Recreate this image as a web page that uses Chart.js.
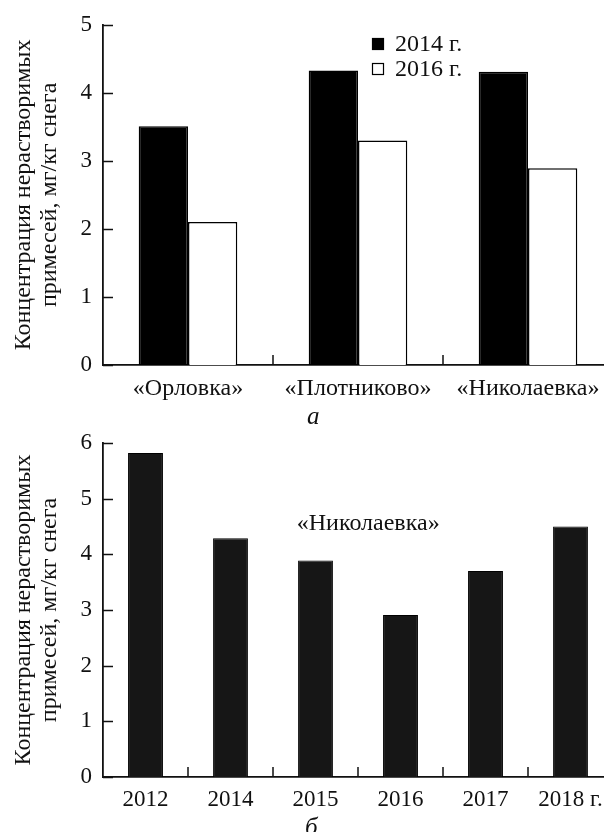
<!DOCTYPE html>
<html>
<head>
<meta charset="utf-8">
<script src="https://cdn.jsdelivr.net/npm/chart.js@4/dist/chart.umd.min.js"></script>
<style>
  html, body { margin:0; padding:0; background:#fff; width:604px; height:832px; overflow:hidden; }
  .wrap { position:absolute; left:0; width:624px; }
  #w1 { top:0; height:415px; }
  #w2 { top:415px; height:417px; }
  .cap { position:absolute; font-family:"Liberation Serif", "Times New Roman", serif; font-style:italic; font-size:25px; color:#111; line-height:1; }
</style>
</head>
<body>
<div class="wrap" id="w1"><canvas id="c1" width="624" height="415"></canvas></div>
<div class="wrap" id="w2"><canvas id="c2" width="624" height="417"></canvas></div>
<div class="cap" style="left:307px; top:403px;">а</div>
<div class="cap" style="left:305px; top:814px;">б</div>
<script>
// ---- data ----
const sites = ["«Орловка»", "«Плотниково»", "«Николаевка»"];
const seriesLabels = ["2014 г.", "2016 г."];
const values2014 = [3.51, 4.33, 4.31];
const values2016 = [2.10, 3.30, 2.89];
const years = ["2012", "2014", "2015", "2016", "2017", "2018 г."];
const nikolaevka = [5.82, 4.29, 3.89, 2.91, 3.70, 4.50];
const yTitle = ["Концентрация нерастворимых", "примесей, мг/кг снега"];
const annotation = "«Николаевка»";

const FONT = '"Liberation Serif", "Times New Roman", serif';
const INK = '#111';

const inTicks = {
  id: 'inTicks',
  afterDraw(chart) {
    const {ctx, chartArea, scales: {x, y}} = chart;
    ctx.save();
    ctx.strokeStyle = INK; ctx.lineWidth = 1.5;
    ctx.beginPath();
    y.ticks.forEach(t => {
      const py = Math.round(y.getPixelForValue(t.value)) + 0.5;
      ctx.moveTo(chartArea.left, py); ctx.lineTo(chartArea.left + 10, py);
    });
    for (let i = 1; i < x.ticks.length; i++) {
      const px = Math.round((x.getPixelForTick(i - 1) + x.getPixelForTick(i)) / 2);
      ctx.moveTo(px, chartArea.bottom); ctx.lineTo(px, chartArea.bottom - 10);
    }
    ctx.stroke();
    ctx.restore();
  }
};

const boxLegend = {
  id: 'boxLegend',
  afterDraw(chart, args, opts) {
    if (!opts.show) return;
    const {ctx, chartArea} = chart;
    ctx.save();
    ctx.font = '24px ' + FONT;
    ctx.textBaseline = 'middle';
    chart.data.datasets.forEach((ds, i) => {
      const x0 = chartArea.left + 269, yc = 44 + i * 25;
      ctx.fillStyle = ds.backgroundColor;
      ctx.fillRect(x0, yc - 6, 12, 12);
      ctx.strokeStyle = '#000'; ctx.lineWidth = 1.2;
      ctx.strokeRect(x0 + 0.5, yc - 5.5, 11, 11);
      ctx.fillStyle = INK;
      ctx.fillText(ds.label, x0 + 23, yc + 1);
    });
    ctx.restore();
  }
};

const note = {
  id: 'note',
  afterDraw(chart, args, opts) {
    if (!opts.text) return;
    const {ctx, scales: {x, y}} = chart;
    ctx.save();
    ctx.font = '24px ' + FONT;
    ctx.fillStyle = INK;
    ctx.textAlign = 'center'; ctx.textBaseline = 'middle';
    ctx.fillText(opts.text, x.getPixelForValue(2.62), y.getPixelForValue(4.55));
    ctx.restore();
  }
};

function scales(yMax, xHeight, xFont, xPad) {
  return {
    x: {
      grid: { display: false, drawTicks: false },
      border: { display: true, color: INK, width: 1.8 },
      ticks: { color: INK, font: { family: FONT, size: xFont }, padding: xPad, maxRotation: 0, autoSkip: false },
      afterFit(s) { s.height = xHeight; }
    },
    y: {
      min: 0, max: yMax,
      grid: { display: false, drawTicks: false },
      border: { display: true, color: INK, width: 1.8 },
      ticks: { stepSize: 1, color: INK, font: { family: FONT, size: 23 }, padding: 11 },
      title: { display: true, text: yTitle, color: INK, font: { family: FONT, size: 24, lineHeight: 1.08 }, padding: { top: 11, bottom: 0 } },
      afterFit(s) { s.width = 103; }
    }
  };
}

new Chart(document.getElementById('c1'), {
  type: 'bar',
  data: {
    labels: sites,
    datasets: [
      { label: seriesLabels[0], data: values2014, backgroundColor: '#000', borderColor: '#000', borderWidth: 1.5 },
      { label: seriesLabels[1], data: values2016, backgroundColor: '#fff', borderColor: '#000', borderWidth: 1.5 }
    ]
  },
  options: {
    responsive: false, animation: false,
    layout: { padding: { top: 22, right: 11, left: 0, bottom: 0 } },
    datasets: { bar: { categoryPercentage: 0.58, barPercentage: 1.0 } },
    plugins: { legend: { display: false }, tooltip: { enabled: false }, boxLegend: { show: true }, note: {} },
    scales: scales(5, 50, 24, 9)
  },
  plugins: [inTicks, boxLegend, note]
});

new Chart(document.getElementById('c2'), {
  type: 'bar',
  data: {
    labels: years,
    datasets: [
      { label: 'Николаевка', data: nikolaevka, backgroundColor: '#161616', borderColor: '#000', borderWidth: 1 }
    ]
  },
  options: {
    responsive: false, animation: false,
    layout: { padding: { top: 28, right: 11, left: 0, bottom: 0 } },
    datasets: { bar: { categoryPercentage: 1.0, barPercentage: 0.41 } },
    plugins: { legend: { display: false }, tooltip: { enabled: false }, boxLegend: { show: false }, note: { text: annotation } },
    scales: scales(6, 55, 23, 9)
  },
  plugins: [inTicks, boxLegend, note]
});
</script>
</body>
</html>
